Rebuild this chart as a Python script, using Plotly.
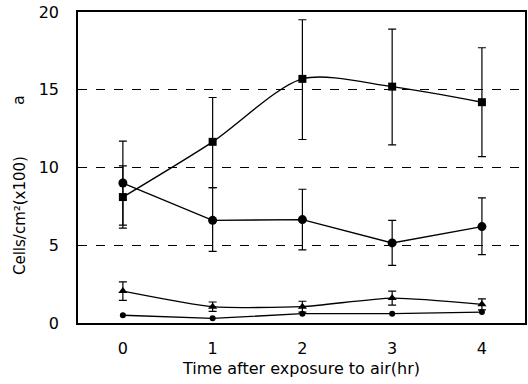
import plotly.graph_objects as go

hours = [0, 1, 2, 3, 4]

sq_vals = [8.1, 11.65, 15.7, 15.2, 14.2]
sq_err_up = [2.0, 2.85, 3.8, 3.7, 3.5]
sq_err_dn = [2.0, 2.95, 3.9, 3.75, 3.5]

ci_vals = [9.0, 6.6, 6.65, 5.15, 6.2]
ci_err_up = [2.7, 2.1, 1.95, 1.45, 1.85]
ci_err_dn = [2.7, 2.0, 1.95, 1.45, 1.8]

tri_vals = [2.05, 1.05, 1.05, 1.6, 1.2]
tri_err = [0.6, 0.3, 0.35, 0.45, 0.35]

dot_vals = [0.5, 0.3, 0.6, 0.6, 0.7]

y_ticks = [0, 5, 10, 15, 20]
x_ticks = [0, 1, 2, 3, 4]

FONT = "DejaVu Sans, Arial, sans-serif"
fig = go.Figure()

def err(up, dn):
    return dict(type="data", array=up, arrayminus=dn, visible=True,
                color="black", thickness=1.2, width=4)

fig.add_trace(go.Scatter(x=hours, y=sq_vals, mode="lines+markers",
                         line=dict(color="black", width=1.4, shape="spline", smoothing=0.8),
                         marker=dict(symbol="square", size=8, color="black"),
                         error_y=err(sq_err_up, sq_err_dn)))
fig.add_trace(go.Scatter(x=hours, y=ci_vals, mode="lines+markers",
                         line=dict(color="black", width=1.4),
                         marker=dict(symbol="circle", size=9, color="black"),
                         error_y=err(ci_err_up, ci_err_dn)))
fig.add_trace(go.Scatter(x=hours, y=tri_vals, mode="lines+markers",
                         line=dict(color="black", width=1.4, shape="spline", smoothing=0.6),
                         marker=dict(symbol="triangle-up", size=8, color="black"),
                         error_y=err(tri_err, tri_err)))
fig.add_trace(go.Scatter(x=hours, y=dot_vals, mode="lines+markers",
                         line=dict(color="black", width=1.4),
                         marker=dict(symbol="circle", size=6, color="black")))

fig.update_layout(
    width=528, height=384,
    margin=dict(l=78, r=1, t=12, b=61),
    paper_bgcolor="white", plot_bgcolor="white",
    showlegend=False,
    font=dict(family=FONT, size=15, color="black"),
    xaxis=dict(range=[-0.5, 4.48], tickvals=x_ticks, ticks="", showgrid=False,
               showline=True, linecolor="black", linewidth=1.5, mirror=True,
               zeroline=False, tickfont=dict(size=16), ticklabelstandoff=10,
               title=dict(text="Time after exposure to air(hr)", font=dict(size=16), standoff=6)),
    yaxis=dict(range=[0, 20], tickvals=y_ticks, ticks="", showgrid=True,
               gridcolor="black", gridwidth=1, griddash="dash",
               showline=True, linecolor="black", linewidth=1.5, mirror=True,
               zeroline=False, tickfont=dict(size=16), ticklabelstandoff=14),
    annotations=[
        dict(text="Cells/cm²(x100)", xref="paper", yref="paper", x=0, y=0.344,
             xshift=-58, textangle=-90, showarrow=False, font=dict(size=15),
             xanchor="center", yanchor="middle"),
        dict(text="a", xref="paper", yref="paper", x=0, y=0.717,
             xshift=-60, textangle=-90, showarrow=False, font=dict(size=16),
             xanchor="center", yanchor="middle"),
    ],
)

fig.write_html("out.html")
